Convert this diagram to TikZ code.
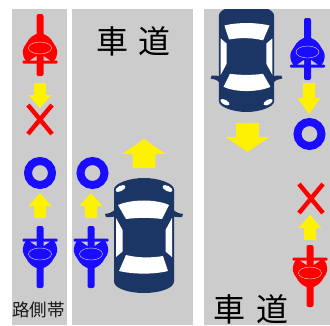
\documentclass[tikz,border=0pt]{standalone}
\usepackage{fontspec}
\newfontfamily\jpfont{Noto Sans CJK JP}
\definecolor{lane}{HTML}{CCCCCC}
\definecolor{carblue}{HTML}{1B3564}
\definecolor{ylw}{HTML}{FFF200}
\definecolor{bikeblue}{HTML}{1A0CFF}
\definecolor{bikered}{HTML}{FF0000}
\tikzset{
  road/.style={fill=lane,draw=none},
  roadtext/.style={font=\jpfont\fontsize{32}{32}\selectfont,text=black,inner sep=0pt},
  sidetext/.style={font=\jpfont\fontsize{17.5}{17.5}\selectfont,text=black!90,inner sep=0pt},
  pics/bike/.style={code={
    \fill[#1,rounded corners=2pt] (-3.5,-28) rectangle (3.5,-10);
    \fill[#1,rounded corners=2pt] (-3.5,10) rectangle (3.5,34);
    \fill[#1,rounded corners=1pt] (-17.5,-15.5) rectangle (17.5,-12.5);
    \fill[#1] (-14,-13) .. controls (-17.5,-9) and (-18,-3) .. (-16,1)
      .. controls (-15,3) and (-14.5,3) .. (-14,4)
      .. controls (-11,10) and (-6,14.5) .. (0,14.5)
      .. controls (6,14.5) and (11,10) .. (14,4)
      .. controls (14.5,3) and (15,3) .. (16,1)
      .. controls (18,-3) and (17.5,-9) .. (14,-13) -- cycle;
    \fill[lane] (-10,-12.5) -- (-3.5,-12.5) -- (-3.5,-8) -- cycle;
    \fill[lane] (10,-12.5) -- (3.5,-12.5) -- (3.5,-8) -- cycle;
    \draw[white!85!#1,line width=.4pt] (0,0) ellipse [x radius=11.5,y radius=6];
  }},
  pics/car/.style={code={
    \fill[carblue] (-29,-26) .. controls (-32,-23) and (-35,-22) .. (-39,-21.5)
      -- (-38,-18.5) .. controls (-35,-18) and (-32,-18.5) .. (-29,-19) -- cycle;
    \fill[carblue] (29,-26) .. controls (32,-23) and (35,-22) .. (39,-21.5)
      -- (38,-18.5) .. controls (35,-18) and (32,-18.5) .. (29,-19) -- cycle;
    \fill[carblue] (-30,-46) .. controls (-30,-52) and (-15,-57.5) .. (0,-57.5)
      .. controls (15,-57.5) and (30,-52) .. (30,-46) -- (30,46)
      .. controls (30,53) and (15,57.5) .. (0,57.5)
      .. controls (-15,57.5) and (-30,53) .. (-30,46) -- cycle;
    \fill[white] (-26,-30.5) .. controls (-12,-36.5) and (12,-36.5) .. (25,-30.5)
      -- (18,-16.5) .. controls (6,-18) and (-6,-18) .. (-18,-16.5) -- cycle;
    \fill[white] (-18,19.5) .. controls (-6,22.5) and (7,22.5) .. (19,20.5)
      -- (24,35.5) .. controls (10,39) and (-10,39) .. (-25,35.5) -- cycle;
    \fill[white] (-28,-17.5) -- (-21.5,-5.5) -- (-21.5,16) -- (-28,21.5) -- cycle;
    \fill[white] (28,-17.5) -- (21.5,-5.5) -- (21.5,16) -- (28,21.5) -- cycle;
    \fill[white,rotate around={28:(-23.5,-47)}] (-23.5,-47) ellipse [x radius=5.5,y radius=2.6];
    \fill[white,rotate around={-28:(23.5,-47)}] (23.5,-47) ellipse [x radius=5.5,y radius=2.6];
  }},
  pics/yarrow/.style={code={
    \fill[ylw] (0,0) -- (11.5,13) -- (6,13) -- (6,25) -- (-6,25) -- (-6,13) -- (-11.5,13) -- cycle;
  }},
  pics/ring/.style={code={
    \draw[bikeblue,line width=8pt] (0,0) circle [radius=12];
  }},
  pics/nogo/.style={code={
    \draw[bikered,line width=4.4pt] (-12,-14.5) -- (12,14.5) (12,-14.5) -- (-12,14.5);
  }}
}
\begin{document}
\begin{tikzpicture}[x=1pt,y=-1pt]
  \useasboundingbox (0,0) rectangle (330,325);

  % roads
  \fill[road] (12,9) rectangle (67,325);
  \fill[road] (71.5,9) rectangle (192.5,325);
  \fill[road] (204,9) rectangle (330,325);

  % left shoulder
  \pic at (40,48) [rotate=180] {bike=bikered};
  \pic at (40,108) [rotate=180] {yarrow};
  \pic at (40,119.5) {nogo};
  \pic at (40,173) {ring};
  \pic at (40,193) {yarrow};
  \pic at (40,254) {bike=bikeblue};
  \node[sidetext] (sideLabel) at (38.5,310) {路側帯};

  % middle road
  \node[roadtext] (roadTop) at (133.5,41) {車\hspace{11pt}道};
  \pic at (92.5,173) {ring};
  \pic at (91,193) {yarrow};
  \pic at (91,254) {bike=bikeblue};
  \pic at (144,139) [xscale=1.9,yscale=1.16] {yarrow};
  \pic at (144,235.5) {car};

  % right road
  \begin{scope}
    \clip (204,9) rectangle (330,325);
    \pic at (246.5,58.5) [rotate=180,xscale=.92,yscale=.93] {car};
  \end{scope}
  \pic at (247.5,152) [rotate=180,xscale=1.9,yscale=1.16] {yarrow};
  \pic at (307.5,52) [rotate=180] {bike=bikeblue};
  \pic at (309,114) [rotate=180,yscale=1.24] {yarrow};
  \pic at (309.5,134) {ring};
  \pic at (311,198.5) {nogo};
  \pic at (310,215) {yarrow};
  \pic at (310,273) {bike=bikered};
  \node[roadtext] (roadBottom) at (251,309) {車\hspace{11pt}道};
\end{tikzpicture}
\end{document}
